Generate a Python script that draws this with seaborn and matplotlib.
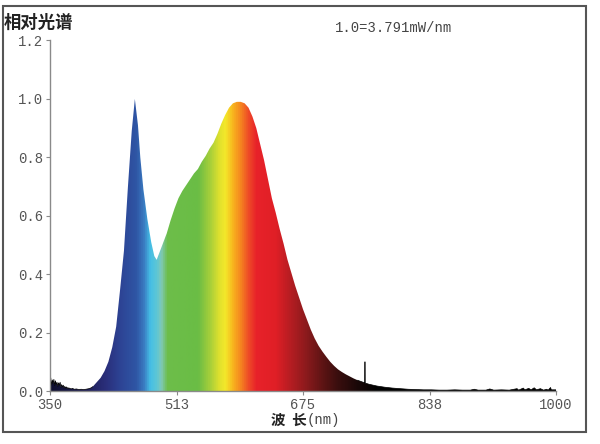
import numpy as np
import pandas as pd
import matplotlib
matplotlib.use("Agg")
import matplotlib.pyplot as plt
import seaborn as sns
from matplotlib.colors import LinearSegmentedColormap
from matplotlib.patches import Rectangle

# relative spectrum (nm, 1.0 = 3.791 mW/nm)
wavelength = [350, 351, 352, 353, 354, 355, 356, 357, 358, 359, 360, 361, 362, 363, 364,
              365, 366, 367, 368, 369, 370, 371, 372, 373, 374, 375, 377, 379, 381, 384,
              387, 390, 393, 396, 400, 403, 405, 410, 415, 420, 425, 430, 435, 440, 445,
              450, 455, 459, 463, 466, 470, 475, 480, 484, 487, 490, 495, 500, 505, 510,
              515, 520, 525, 530, 535, 540, 545, 550, 555, 560, 565, 570, 575, 580, 585,
              590, 595, 600, 605, 610, 615, 620, 625, 630, 635, 640, 645, 650, 655, 660,
              665, 670, 675, 680, 685, 690, 695, 700, 705, 710, 715, 720, 725, 730, 735,
              740, 745, 750, 754.3, 754.6, 754.9, 760, 770, 780, 790, 800, 810, 820, 830, 840,
              850, 860, 870, 880, 890, 895, 900, 910, 915, 920, 930, 940, 950, 952, 958,
              960, 965, 968, 972, 975, 980, 984, 988, 990, 993, 994, 1000]
relative = [0.030, 0.045, 0.020, 0.038, 0.025, 0.040, 0.018, 0.035, 0.022, 0.030, 0.015, 0.028, 0.020, 0.030, 0.012,
            0.022, 0.014, 0.020, 0.010, 0.016, 0.010, 0.014, 0.008, 0.012, 0.008, 0.010, 0.007, 0.009, 0.006, 0.007,
            0.005, 0.006, 0.005, 0.006, 0.008, 0.011, 0.015, 0.030, 0.045, 0.068, 0.100, 0.150, 0.220, 0.346, 0.480,
            0.695, 0.890, 1.000, 0.910, 0.800, 0.690, 0.590, 0.510, 0.462, 0.449, 0.470, 0.505, 0.540, 0.585, 0.625,
            0.660, 0.685, 0.705, 0.725, 0.745, 0.760, 0.785, 0.805, 0.830, 0.850, 0.880, 0.915, 0.945, 0.970, 0.985,
            0.990, 0.990, 0.985, 0.970, 0.940, 0.900, 0.845, 0.790, 0.725, 0.660, 0.610, 0.555, 0.505, 0.450, 0.405,
            0.360, 0.320, 0.280, 0.245, 0.210, 0.180, 0.155, 0.135, 0.117, 0.100, 0.086, 0.074, 0.065, 0.057, 0.050,
            0.043, 0.037, 0.032, 0.028, 0.100, 0.027, 0.023, 0.017, 0.013, 0.010, 0.008, 0.006, 0.005, 0.004, 0.004,
            0.003, 0.003, 0.004, 0.003, 0.003, 0.006, 0.003, 0.003, 0.007, 0.003, 0.004, 0.003, 0.008, 0.003, 0.010,
            0.004, 0.009, 0.004, 0.011, 0.004, 0.008, 0.003, 0.006, 0.003, 0.012, 0.004, 0.004]

# colour of the fill along the wavelength axis
color_nm = [350, 395, 420, 440, 460, 470, 478, 486, 492, 500, 540, 555, 568, 575,
            585, 595, 605, 615, 640, 660, 680, 700, 720, 745, 770, 1000]
color_hex = ['#101030', '#1e1e55', '#2a2e7a', '#2d4495', '#2f56a5', '#3a7cc2', '#45bfe6',
             '#5cc6d6', '#80c9b8', '#6dbd4a', '#6abd45', '#a6cf3a', '#e3e22d', '#f4e82a',
             '#f8b41e', '#f58220', '#ee4a27', '#e8222a', '#e01f26', '#b31d22', '#8a1a1c',
             '#5e1414', '#3a0e0e', '#1a0808', '#000000', '#000000']

x_ticks = [350, 513, 675, 838, 1000]
y_ticks = [0.0, 0.2, 0.4, 0.6, 0.8, 1.0, 1.2]

CJK = ['Noto Sans CJK SC', 'DejaVu Sans']


def main():
    sns.set_style("ticks")
    plt.rcParams['font.family'] = ['Liberation Mono', 'DejaVu Sans']

    df = pd.DataFrame({'nm': wavelength, 'rel': relative})

    fig = plt.figure(figsize=(6, 4.44), dpi=100)
    ax = fig.add_axes([50 / 600, 1 - 391 / 444, 506 / 600, 350.5 / 444])

    # rainbow gradient clipped to the area under the curve
    poly = ax.fill_between(df['nm'], 0, df['rel'], color='none', lw=0)
    stops = [(n - 350) / 650 for n in color_nm]
    cmap = LinearSegmentedColormap.from_list('spec', list(zip(stops, color_hex)))
    grad = np.linspace(0, 1, 1300).reshape(1, -1)
    im = ax.imshow(grad, cmap=cmap, extent=[350, 1000, 0, 1.2], aspect='auto',
                   origin='lower', interpolation='bilinear', zorder=1)
    im.set_clip_path(poly.get_paths()[0], ax.transData)

    # noisy tails in black
    sns.lineplot(data=df[df['nm'] <= 405], x='nm', y='rel', color='black', lw=0.5,
                 estimator=None, ax=ax, zorder=2)
    sns.lineplot(data=df[df['nm'] >= 745], x='nm', y='rel', color='black', lw=0.5,
                 estimator=None, ax=ax, zorder=2)

    ax.set_xlim(350, 1000)
    ax.set_ylim(0, 1.2)
    ax.set_xticks(x_ticks)
    ax.set_yticks(y_ticks)
    ax.set_yticklabels([f'{v:.1f}' for v in y_ticks])
    ax.set_xlabel('')
    ax.set_ylabel('')
    ax.spines[['top', 'right']].set_visible(False)
    for s in ['left', 'bottom']:
        ax.spines[s].set_color('#8a8a8a')
        ax.spines[s].set_linewidth(1.0)
    ax.tick_params(colors='#8a8a8a', labelcolor='#555555', length=3, width=0.8,
                   labelsize=10, pad=2)

    fig.text(4 / 600, 1 - 23 / 444, '相对光谱', family=CJK, weight='bold',
             fontsize=12.5, ha='left', va='center', color='#222222')
    fig.text(335 / 600, 1 - 28 / 444, '1.0=3.791mW/nm', fontsize=10,
             ha='left', va='center', color='#444444')
    fig.text(307 / 600, 1 - 420 / 444, '波  长', family=CJK, weight='bold',
             fontsize=10.5, ha='right', va='center', color='#222222')
    fig.text(307 / 600, 1 - 420 / 444, '(nm)', fontsize=10,
             ha='left', va='center', color='#444444')

    # outer frame of the picture
    fig.patches.append(Rectangle((3 / 600, 1 - 432 / 444), 583 / 600, 426 / 444,
                                 transform=fig.transFigure, fill=False,
                                 ec='#555555', lw=1.5))

    fig.savefig('out.png', dpi=100)


if '__main__' == __name__:
    main()
